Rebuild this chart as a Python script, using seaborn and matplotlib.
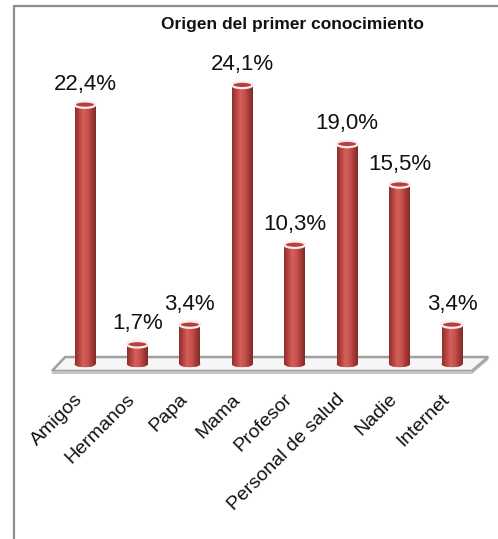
import numpy as np
import matplotlib
matplotlib.use("Agg")
import matplotlib.pyplot as plt
import matplotlib.transforms as mtransforms
import seaborn as sns
from matplotlib.patches import Ellipse, Polygon
from matplotlib.colors import LinearSegmentedColormap
from matplotlib.lines import Line2D

categories = ["Amigos", "Hermanos", "Papa", "Mama", "Profesor",
              "Personal de salud", "Nadie", "Internet"]
values = [22.4, 1.7, 3.4, 24.1, 10.3, 19.0, 15.5, 3.4]
title = "Origen del primer conocimiento"

sns.set_theme(style="white")
plt.rcParams['font.family'] = ['Liberation Sans', 'DejaVu Sans']

W, H = 498, 539
fig = plt.figure(figsize=(W / 100, H / 100), dpi=100)
fig.patch.set_facecolor("white")

# axes geometry (pixels)
x0_px, dx_px = 85.0, 52.43
y0_px_top, dy_px = 364.0, 11.58
xlim = (-1.2, 7.8)
ylim = (-2.0, 30.0)
left = (x0_px + dx_px * xlim[0]) / W
width = dx_px * (xlim[1] - xlim[0]) / W
bottom = (H - y0_px_top + dy_px * ylim[0]) / H
height = dy_px * (ylim[1] - ylim[0]) / H
ax = fig.add_axes([left, bottom, width, height])
ax.set_facecolor("none")

bar_w = 0.40
sns.barplot(x=categories, y=values, color="#C0504D", width=bar_w,
            ax=ax, zorder=3, saturation=1)
bars = list(ax.patches)

# floor (3D platform)
ax.add_patch(Polygon([(-0.63, -0.6), (7.38, -0.6), (7.69, 0.6), (-0.38, 0.6)],
                     closed=True, facecolor="#f6f6f6", edgecolor="#a0a0a0",
                     lw=1.8, zorder=1))
ax.add_patch(Polygon([(-0.63, -0.6), (7.38, -0.6), (7.38, -0.85), (-0.63, -0.85)],
                     closed=True, facecolor="#c4c4c4", edgecolor="none", zorder=1))
ax.add_patch(Polygon([(7.38, -0.6), (7.69, 0.6), (7.69, 0.35), (7.38, -0.85)],
                     closed=True, facecolor="#b0b0b0", edgecolor="none", zorder=1))

cmap = LinearSegmentedColormap.from_list(
    "cyl", ["#8E2E2B", "#B8443F", "#D4615C", "#C9534E", "#A63B37", "#822A27"])
grad = np.linspace(0, 1, 64).reshape(1, -1)
eh = 0.55

for b, v in zip(bars, values):
    bx, bw = b.get_x(), b.get_width()
    cx = bx + bw / 2
    b.set_edgecolor("none")
    im = ax.imshow(grad, cmap=cmap, extent=(bx, bx + bw, 0, v), aspect="auto",
                   zorder=3.1, interpolation="bicubic")
    im.set_clip_path(b)
    be = Ellipse((cx, 0), bw, eh, facecolor="#B8443F", edgecolor="none", zorder=2.9)
    ax.add_patch(be)
    im2 = ax.imshow(grad, cmap=cmap, extent=(bx, bx + bw, -eh / 2, eh / 2),
                    aspect="auto", zorder=3.0, interpolation="bicubic")
    im2.set_clip_path(be)
    ax.add_patch(Ellipse((cx, v), bw, eh, facecolor="#B4413D",
                         edgecolor="#fbeaea", lw=1.6, zorder=4))
    lab = f"{v:.1f}".replace(".", ",") + "%"
    ax.annotate(lab, (cx, v), xytext=(0, 10), textcoords="offset pixels",
                ha="center", va="bottom", fontsize=16, color="#111111", zorder=5)

ax.set_xlim(*xlim)
ax.set_ylim(*ylim)
ax.set_yticks([])
ax.set_xticks(range(len(categories)))
ax.set_xticklabels(categories, rotation=45, ha="right", va="center",
                   rotation_mode="anchor", fontsize=14, color="#111111")
ax.tick_params(axis="x", length=0, pad=7)
shift = mtransforms.ScaledTranslation(-5 / 100, 0, fig.dpi_scale_trans)
for t in ax.get_xticklabels():
    t.set_transform(t.get_transform() + shift)
ax.set_xlabel("")
ax.set_ylabel("")
for s in ax.spines.values():
    s.set_visible(False)

fig.text(292 / W, 1 - 25 / H, title, ha="center", va="center",
         fontsize=12.5, fontweight="bold", color="#111111")

# outer frame (left and top)
fig.add_artist(Line2D([13.5 / W, 13.5 / W], [0, 1 - 6 / H], color="#8c8c8c", lw=1.6))
fig.add_artist(Line2D([13.5 / W, 1], [1 - 6 / H, 1 - 6 / H], color="#8c8c8c", lw=1.6))

fig.savefig("out.png", dpi=100, facecolor="white")
